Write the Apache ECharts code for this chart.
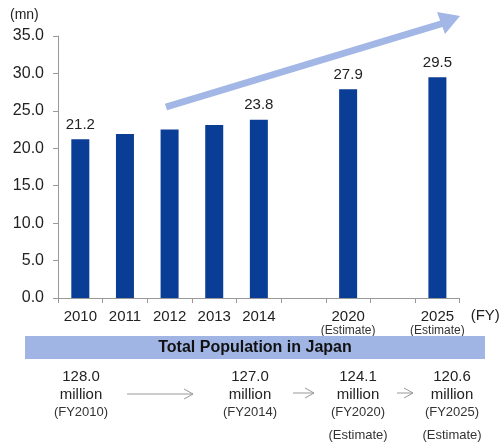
<!DOCTYPE html>
<html>
<head>
<meta charset="utf-8">
<script src="https://cdn.jsdelivr.net/npm/echarts@6/dist/echarts.min.js"></script>
<style>
html,body{margin:0;padding:0;background:#fff;}
#chart{width:502px;height:444px;}
</style>
</head>
<body>
<div id="chart"></div>
<script>
// ---- data ----
var categories = ['2010', '2011', '2012', '2013', '2014', '', '2020', '', '2025'];
var subLabels  = ['', '', '', '', '', '', '(Estimate)', '', '(Estimate)'];
var values     = [21.2, 21.9, 22.5, 23.1, 23.8, null, 27.9, null, 29.5];
var showLabel  = [true, false, false, false, true, false, true, false, true];
var yTicks     = [0, 5, 10, 15, 20, 25, 30, 35];
var unitLabel  = '(mn)';
var fyLabel    = '(FY)';

var popTitle   = 'Total Population in Japan';
var popValues  = ['128.0', '127.0', '124.1', '120.6'];
var popYears   = ['(FY2010)', '(FY2014)', '(FY2020)', '(FY2025)'];
var popEst     = ['', '', '(Estimate)', '(Estimate)'];

// ---- layout ----
var FONT = 'Liberation Sans, Arial, sans-serif';
var popX = [81, 250, 358, 452];
var chart = echarts.init(document.getElementById('chart'));

var seriesData = values.map(function (v, i) {
  return {
    value: v,
    label: { show: showLabel[i] && v != null }
  };
});

var graphics = [];
// unit label
graphics.push({
  type: 'text', x: 10, y: 15,
  style: { text: unitLabel, font: '14px ' + FONT, fill: '#222', textAlign: 'left', textVerticalAlign: 'middle' }
});
// trend arrow
graphics.push({
  type: 'line', shape: { x1: 166, y1: 107, x2: 444, y2: 23 },
  style: { stroke: '#a2b7e5', lineWidth: 7 }, z: 10
});
graphics.push({
  type: 'polygon', shape: { points: [[460, 16], [437, 12], [445, 34]] },
  style: { fill: '#a2b7e5' }, z: 10
});
// banner
graphics.push({
  type: 'rect', shape: { x: 25, y: 336, width: 460, height: 23 },
  style: { fill: '#a1b5e5' }, z: 1
});
graphics.push({
  type: 'text', x: 255, y: 348, z: 2,
  style: { text: popTitle, font: 'bold 16px ' + FONT, fill: '#111', textAlign: 'center', textVerticalAlign: 'middle' }
});
// population texts
popValues.forEach(function (v, i) {
  graphics.push({ type: 'text', x: popX[i], y: 377, style: { text: v, font: '15px ' + FONT, fill: '#222', textAlign: 'center', textVerticalAlign: 'middle' } });
  graphics.push({ type: 'text', x: popX[i], y: 395, style: { text: 'million', font: '15px ' + FONT, fill: '#222', textAlign: 'center', textVerticalAlign: 'middle' } });
  graphics.push({ type: 'text', x: popX[i], y: 412, style: { text: popYears[i], font: '13px ' + FONT, fill: '#333', textAlign: 'center', textVerticalAlign: 'middle' } });
  if (popEst[i]) {
    graphics.push({ type: 'text', x: popX[i], y: 435, style: { text: popEst[i], font: '13px ' + FONT, fill: '#333', textAlign: 'center', textVerticalAlign: 'middle' } });
  }
});
// gray arrows
function grayArrow(x1, x2, y) {
  graphics.push({ type: 'line', shape: { x1: x1, y1: y, x2: x2, y2: y }, style: { stroke: '#999', lineWidth: 1 } });
  graphics.push({ type: 'polyline', shape: { points: [[x2 - 9, y - 5], [x2, y], [x2 - 9, y + 5]] }, style: { stroke: '#999', lineWidth: 1, fill: null } });
}
grayArrow(127, 193, 394);
grayArrow(293, 314, 393);
grayArrow(397, 413, 393);

chart.setOption({
  animation: false,
  backgroundColor: '#fff',
  textStyle: { fontFamily: FONT },
  grid: { left: 58, right: 28, top: 36, bottom: 146 },
  xAxis: {
    type: 'category',
    data: categories,
    name: fyLabel,
    nameLocation: 'end',
    nameGap: 4,
    nameTextStyle: { fontSize: 15, color: '#222', verticalAlign: 'top', padding: [10, 0, 0, 0] },
    axisLine: { lineStyle: { color: '#999' } },
    axisTick: { show: true, alignWithLabel: false, length: 5, lineStyle: { color: '#999' } },
    axisLabel: {
      interval: 0,
      margin: 11,
      color: '#222',
      fontSize: 15,
      formatter: function (val, idx) {
        var s = subLabels[idx];
        return s ? '{a|' + val + '}\n{b|' + s + '}' : '{a|' + val + '}';
      },
      rich: {
        a: { fontSize: 15, color: '#222', lineHeight: 15 },
        b: { fontSize: 12, color: '#333', lineHeight: 13 }
      }
    }
  },
  yAxis: {
    type: 'value',
    min: 0, max: 35, interval: 5,
    axisLine: { show: true, lineStyle: { color: '#999' } },
    axisTick: { show: true, length: 5, lineStyle: { color: '#999' } },
    splitLine: { show: false },
    axisLabel: {
      color: '#222', fontSize: 16, margin: 14,
      formatter: function (v) { return yTicks.indexOf(v) >= 0 ? v.toFixed(1) : ''; }
    }
  },
  series: [{
    type: 'bar',
    data: seriesData,
    barWidth: 18,
    itemStyle: { color: '#0a3d96' },
    label: {
      position: 'top',
      distance: 7,
      color: '#222',
      fontSize: 15,
      formatter: function (p) { return p.value.toFixed(1); }
    }
  }],
  graphic: graphics
});
</script>
</body>
</html>
